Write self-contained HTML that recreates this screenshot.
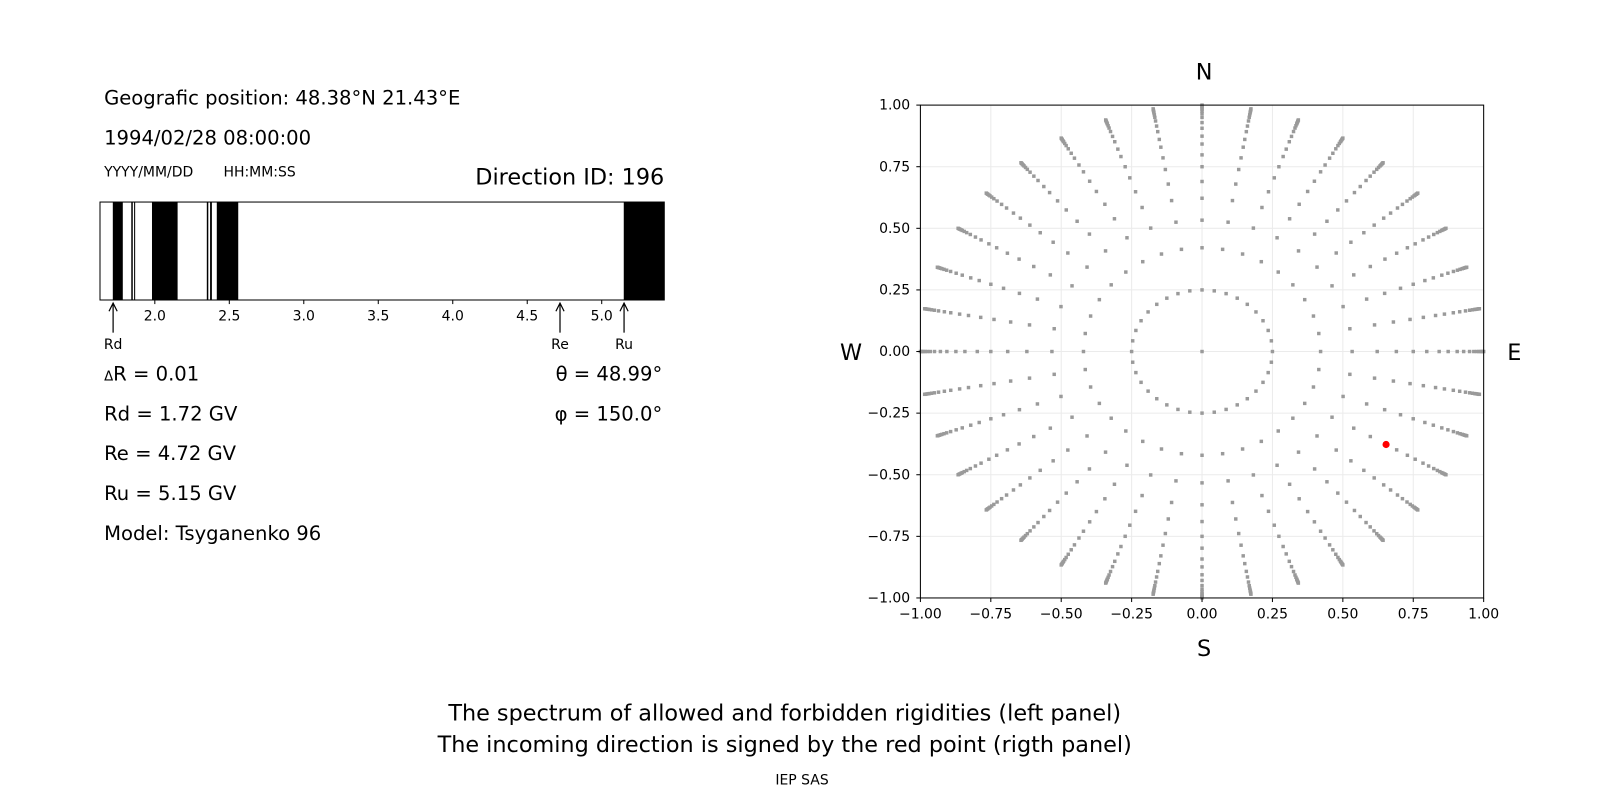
<!DOCTYPE html>
<html><head><meta charset="utf-8"><style>
body{margin:0;background:#fff;}
svg text{font-family:"DejaVu Sans","Liberation Sans",sans-serif;fill:#000;}
</style></head><body>
<svg id="s" width="1600" height="800" viewBox="0 0 1600 800" xmlns="http://www.w3.org/2000/svg">
<g transform="scale(1.0204)">
<text x="102" y="102.5" font-size="19.2">Geografic position: 48.38°N 21.43°E</text>
<text x="102" y="141.5" font-size="19.2">1994/02/28 08:00:00</text>
<text x="102" y="173" font-size="13.7">YYYY/MM/DD</text>
<text x="219" y="173" font-size="13.7">HH:MM:SS</text>
<text x="651" y="181" font-size="21.9" text-anchor="end">Direction ID: 196</text>
<g id="spec"></g>
<g font-size="19.2">
<text x="102" y="373"><tspan font-size="13">Δ</tspan>R = 0.01</text>
<text x="102" y="412">Rd = 1.72 GV</text>
<text x="102" y="451">Re = 4.72 GV</text>
<text x="102" y="490">Ru = 5.15 GV</text>
<text x="102" y="529">Model: Tsyganenko 96</text>
<text x="649" y="373" text-anchor="end">θ = 48.99°</text>
<text x="649" y="412" text-anchor="end">φ = 150.0°</text>
</g>
<g id="polar"></g>
<text x="1180" y="78" font-size="21.9" text-anchor="middle">N</text>
<text x="1180" y="643" font-size="21.9" text-anchor="middle">S</text>
<text x="834" y="353" font-size="21.9" text-anchor="middle">W</text>
<text x="1484" y="353" font-size="21.9" text-anchor="middle">E</text>
<text x="769" y="706" font-size="21.9" text-anchor="middle">The spectrum of allowed and forbidden rigidities (left panel)</text>
<text x="769" y="737" font-size="21.9" text-anchor="middle">The incoming direction is signed by the red point (rigth panel)</text>
<text x="786" y="769" font-size="13.7" text-anchor="middle">IEP SAS</text>
</g>
</svg>
<script>
// spectrum data (GV)
const bandStarts=[1.718,1.842,1.861,1.981,2.349,2.371,2.416,5.148];
const bandEnds=[1.785,1.852,1.868,2.153,2.359,2.383,2.560,5.42];
const specTicks=[2.0,2.5,3.0,3.5,4.0,4.5,5.0];
const markerNames=["Rd","Re","Ru"];
const markerValues=[1.72,4.72,5.15];
// direction data
const azimuths=[0,10,20,30,40,50,60,70,80,90,100,110,120,130,140,150,160,170,180,190,200,210,220,230,240,250,260,270,280,290,300,310,320,330,340,350];
const radii=[0.25,0.421,0.533,0.622,0.690,0.750,0.798,0.842,0.874,0.906,0.929,0.950,0.965,0.975,0.983,0.988,0.993,0.997,1.0];
const polarTicks=[-1,-0.75,-0.5,-0.25,0,0.25,0.5,0.75,1];
const thetaDeg=48.99, phiDeg=150.0;

const NS='http://www.w3.org/2000/svg';
function mk(p,t,a){const e=document.createElementNS(NS,t);for(const k in a)e.setAttribute(k,a[k]);p.appendChild(e);return e;}
const sp=document.getElementById('spec');
const X0=98,X1=651,Y0=198,Y1=294,xmin=1.632,xmax=5.42;
const sx=v=>X0+(v-xmin)/(xmax-xmin)*(X1-X0);
for(let i=0;i<bandStarts.length;i++){
 const r=mk(sp,'rect',{x:sx(bandStarts[i]),y:Y0,width:Math.max(1,sx(Math.min(bandEnds[i],xmax))-sx(bandStarts[i])),height:Y1-Y0,fill:'#000'});
 
 
}
const fr=mk(sp,'rect',{x:X0,y:Y0,width:X1-X0,height:Y1-Y0,fill:'none',stroke:'#000','stroke-width':1});


specTicks.forEach(t=>{
 mk(sp,'line',{x1:sx(t),x2:sx(t),y1:Y1,y2:Y1+4,stroke:'#000'});
 const tx=mk(sp,'text',{x:sx(t),y:314,'font-size':13.7,'text-anchor':'middle'});tx.textContent=t.toFixed(1);
 
 
});
markerValues.forEach((v,i)=>{
 const x=sx(v);
 mk(sp,'line',{x1:x,x2:x,y1:326,y2:298,stroke:'#000','stroke-width':1.2});
 mk(sp,'path',{d:`M${x-4},${305}L${x},${297}L${x+4},${305}`,fill:'none',stroke:'#000','stroke-width':1.2});
 const tx=mk(sp,'text',{x:x,y:342,'font-size':13.7,'text-anchor':'middle'});tx.textContent=markerNames[i];
 
 
});
const pg=document.getElementById('polar');
const PX0=902,PX1=1454,PY0=103,PY1=586;
const px=v=>PX0+(v+1)/2*(PX1-PX0), py=v=>PY1-(v+1)/2*(PY1-PY0);
polarTicks.forEach(t=>{
 mk(pg,'line',{x1:px(t),x2:px(t),y1:PY0,y2:PY1,stroke:'#ebebeb'});
 mk(pg,'line',{x1:PX0,x2:PX1,y1:py(t),y2:py(t),stroke:'#ebebeb'});
});
const pts=[[0,0]];
azimuths.forEach(a=>radii.forEach(r=>{const rad=a*Math.PI/180;pts.push([r*Math.sin(rad),r*Math.cos(rad)]);}));
pts.forEach(p=>{
 const c=mk(pg,'rect',{x:px(p[0])-1.7,y:py(p[1])-1.7,width:3.4,height:3.4,fill:'#9a9a9a'});
 
 
});
const rr=Math.sin(thetaDeg*Math.PI/180), az=(phiDeg-30)*Math.PI/180;
const red=mk(pg,'circle',{cx:px(rr*Math.sin(az)),cy:py(rr*Math.cos(az)),r:3.5,fill:'#ff0000'});


const pf=mk(pg,'rect',{x:PX0,y:PY0,width:PX1-PX0,height:PY1-PY0,fill:'none',stroke:'#000'});


polarTicks.forEach(t=>{
 mk(pg,'line',{x1:px(t),x2:px(t),y1:PY1,y2:PY1+4,stroke:'#000'});
 mk(pg,'line',{x1:PX0-4,x2:PX0,y1:py(t),y2:py(t),stroke:'#000'});
 const lab=(t<0?'\u2212':'')+Math.abs(t).toFixed(2);
 const a=mk(pg,'text',{x:px(t),y:606,'font-size':13.7,'text-anchor':'middle'});a.textContent=lab;
 
 
 const b=mk(pg,'text',{x:892,y:py(t)+4.5,'font-size':13.7,'text-anchor':'end'});b.textContent=lab;
 
 
});
</script>
</body></html>
